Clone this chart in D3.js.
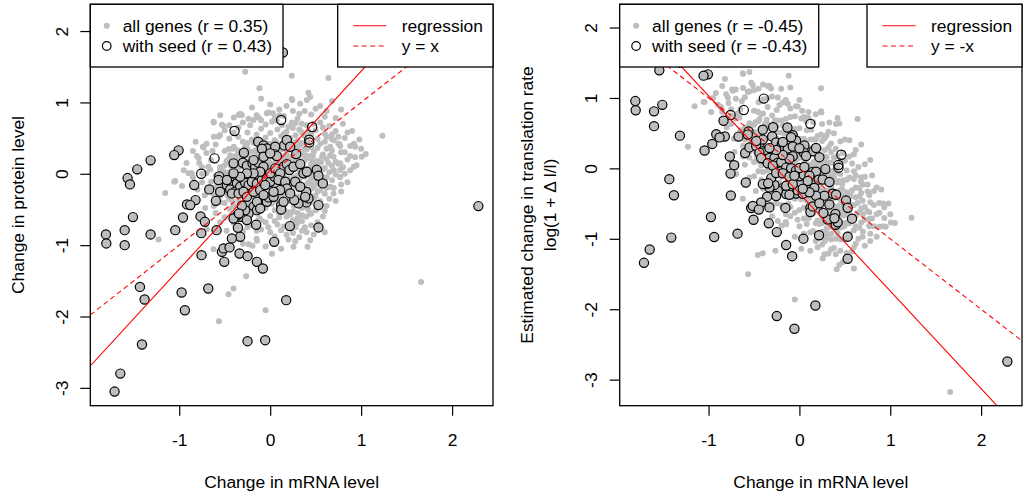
<!DOCTYPE html>
<html>
<head>
<meta charset="utf-8">
<script src="https://cdn.jsdelivr.net/npm/d3@7"></script>
<style>
  body { margin: 0; background: #fff; }
  svg { display: block; font-family: "Liberation Sans", Arial, Helvetica, sans-serif; }
</style>
</head>
<body>
<svg id="chart" width="1024" height="495"></svg>
<script>
// all genes: [change in mRNA level, change in protein level]
var allGenes = [
  [-0.62,0.72],[-0.53,0.687],[-0.56,0.53],[-0.55,0.543],[-0.733,0.37],[-0.788,0.22],[-0.634,0.32],[-0.868,0.005],
  [-0.897,0.006],[-1.044,-0.1],[-1.055,-0.112],[-0.97,-0.17],[-1.154,-0.27],[-0.68,0.1],[-0.66,0.06],[-0.55,0.09],
  [-0.75,-0.12],[-0.275,1.43],[0.238,1.375],[0.64,1.342],[0.42,1.136],[0.44,1.076],[0.238,1.048],[0.33,0.98],
  [0.32,0.84],[-0.019,0.86],[-0.128,0.79],[-0.33,0.84],[-0.238,0.77],[0.073,0.745],[0.238,0.72],[0.348,0.70],
  [0.677,0.487],[0.77,0.39],[0.88,0.39],[0.934,0.23],[0.77,-0.05],[-0.458,0.346],[1.234,0.533],[1.051,0.276],
  [1.007,0.238],[0.934,0.379],[0.762,0.417],[-0.118,1.198],[0.403,1.034],[0.242,1.034],[0.03,0.847],[-0.037,0.847],
  [-0.348,0.823],[-0.311,0.823],[-0.183,0.753],[-0.623,0.729],[-0.513,0.669],[-0.568,0.519],[-0.74,0.379],[-0.806,0.248],
  [-0.861,0.006],[-1.227,-0.92],[0.696,0.238],[0.77,0.146],[0.77,0.052],[0.77,-0.042],[0.66,-0.182],[0.696,-0.275],
  [0.44,-0.556],[0.44,-0.93],[0.256,-1.024],[0.275,-0.944],[0.41,-1.024],[1.659,-1.515],[-0.564,-2.066],[-0.051,-1.912],
  [-0.458,-1.687],[-0.403,-1.608],[-0.264,-1.435],[-0.623,-1.056],[-0.238,-0.986],[-0.194,-1.01],[-0.146,-0.94],[-0.714,-0.481],
  [-0.696,-0.776],[0.06,2.15],
  [-0.2,0.93],[0.1,0.9],[0.18,0.95],[0.5,0.91],[0.0,0.97],
  [-0.4,0.79],[-0.15,0.82],[0.05,0.78],[0.15,0.81],[0.3,0.77],[0.45,0.83],[0.6,0.8],
  [-0.45,0.68],[-0.3,0.72],[-0.05,0.69],[0.02,0.73],[0.2,0.66],[0.28,0.71],[0.4,0.68],[0.55,0.72],[0.65,0.67],
  [-0.5,0.61],[-0.25,0.58],[-0.1,0.63],[0.0,0.57],[0.08,0.62],[0.18,0.59],[0.25,0.64],[0.35,0.58],[0.5,0.61],[0.6,0.56],[0.72,0.6],
  [-0.45,0.49],[-0.35,0.52],[-0.2,0.48],[-0.05,0.51],[0.05,0.47],[0.12,0.53],[0.22,0.5],[0.3,0.46],[0.38,0.53],[0.52,0.49],[0.62,0.52],[0.7,0.47],[0.82,0.5],
  [-0.6,0.41],[-0.4,0.38],[-0.25,0.43],[-0.12,0.39],[0.0,0.42],[0.1,0.37],[0.2,0.43],[0.32,0.4],[0.45,0.37],[0.55,0.42],[0.66,0.38],
  [-0.7,0.29],[-0.5,0.32],[-0.35,0.28],[-0.2,0.31],[-0.05,0.27],[0.08,0.33],[0.18,0.29],[0.25,0.32],[0.35,0.28],[0.48,0.31],[0.58,0.27],[0.68,0.33],[0.82,0.3],
  [-0.65,0.19],[-0.45,0.22],[-0.3,0.18],[-0.18,0.21],[-0.02,0.2],[0.12,0.17],[0.22,0.23],[0.32,0.19],[0.42,0.22],[0.52,0.18],[0.62,0.21],[0.72,0.17],[0.85,0.2],
  [-0.75,0.09],[-0.5,0.12],[-0.35,0.08],[-0.22,0.11],[-0.1,0.07],[0.05,0.12],[0.15,0.09],[0.3,0.11],[0.4,0.07],[0.5,0.12],[0.6,0.08],[0.68,0.11],[0.8,0.09],
  [-0.7,0.01],[-0.6,-0.02],[-0.45,0.02],[-0.3,-0.01],[-0.15,0.03],[-0.05,-0.03],[0.1,0.0],[0.2,0.03],[0.3,-0.02],[0.45,0.01],[0.55,-0.03],[0.65,0.02],[0.72,-0.01],
  [-0.65,-0.11],[-0.5,-0.08],[-0.38,-0.12],[-0.2,-0.09],[-0.08,-0.12],[0.05,-0.08],[0.18,-0.11],[0.32,-0.09],[0.42,-0.12],[0.5,-0.08],[0.6,-0.11],[0.68,-0.09],
  [-0.6,-0.19],[-0.42,-0.22],[-0.3,-0.18],[-0.15,-0.21],[0.0,-0.19],[0.1,-0.23],[0.25,-0.18],[0.35,-0.21],[0.48,-0.19],[0.55,-0.23],[0.62,-0.2],
  [-0.55,-0.31],[-0.4,-0.28],[-0.2,-0.32],[-0.05,-0.29],[0.08,-0.31],[0.18,-0.28],[0.3,-0.32],[0.42,-0.29],[0.5,-0.31],[0.6,-0.28],
  [-0.5,-0.41],[-0.35,-0.38],[-0.22,-0.42],[-0.1,-0.39],[0.02,-0.42],[0.2,-0.38],[0.32,-0.41],[0.45,-0.39],[0.52,-0.42],
  [-0.45,-0.49],[-0.2,-0.52],[-0.05,-0.48],[0.05,-0.51],[0.15,-0.49],[0.25,-0.53],[0.35,-0.48],[0.5,-0.51],
  [-0.5,-0.61],[-0.3,-0.58],[-0.12,-0.62],[0.0,-0.59],[0.1,-0.61],[0.22,-0.57],[0.3,-0.63],[0.4,-0.6],
  [-0.4,-0.69],[-0.2,-0.72],[-0.05,-0.68],[0.08,-0.71],[0.15,-0.74],[0.3,-0.69],[0.45,-0.72],
  [-0.3,-0.81],[-0.1,-0.78],[0.0,-0.82],[0.12,-0.79],[0.25,-0.83],[0.35,-0.8],
  [-0.15,-0.91],[0.05,-0.88],[0.2,-0.92],[0.32,-0.89],
  [-0.15,0.55],[0.15,0.56],[0.28,0.54],[0.45,0.55],
  [-0.3,0.45],[-0.08,0.46],[0.07,0.44],[0.16,0.46],[0.27,0.44],[0.42,0.45],[0.6,0.45],
  [-0.42,0.35],[-0.28,0.36],[-0.12,0.34],[0.03,0.36],[0.14,0.35],[0.28,0.36],[0.4,0.34],[0.52,0.36],[0.62,0.35],
  [-0.38,0.25],[-0.25,0.26],[-0.1,0.24],[0.03,0.26],[0.16,0.25],[0.28,0.24],[0.38,0.26],[0.47,0.25],[0.57,0.24],[0.66,0.26],
  [-0.42,0.15],[-0.28,0.14],[-0.15,0.16],[0.0,0.15],[0.1,0.14],[0.22,0.16],[0.35,0.15],[0.45,0.14],[0.56,0.16],[0.64,0.15],[0.75,0.14],
  [-0.55,0.05],[-0.38,0.04],[-0.25,0.06],[-0.05,0.05],[0.02,0.04],[0.25,0.06],[0.36,0.05],[0.48,0.04],[0.58,0.06],[0.7,0.05],
  [-0.52,-0.05],[-0.35,-0.04],[-0.22,-0.06],[-0.1,-0.05],[0.08,-0.04],[0.16,-0.06],[0.26,-0.05],[0.38,-0.04],[0.5,-0.06],[0.62,-0.05],
  [-0.48,-0.15],[-0.28,-0.14],[-0.12,-0.16],[0.1,-0.15],[0.22,-0.14],[0.38,-0.16],[0.46,-0.15],[0.56,-0.14],
  [-0.48,-0.25],[-0.32,-0.26],[-0.1,-0.24],[0.04,-0.26],[0.14,-0.25],[0.24,-0.24],[0.38,-0.26],[0.52,-0.25],
  [-0.45,-0.35],[-0.28,-0.34],[-0.15,-0.36],[0.12,-0.35],[0.25,-0.34],[0.38,-0.36],[0.48,-0.35],
  [-0.4,-0.45],[-0.15,-0.46],[0.1,-0.44],[0.26,-0.45],[0.4,-0.46],
  [-0.35,-0.55],[0.1,-0.56],[0.2,-0.54],[0.3,-0.55],[0.45,-0.56],
  [-0.1,-0.65],[0.05,-0.66],[0.25,-0.65],[0.35,-0.66],
  [-0.25,-0.75],[0.22,-0.76],[0.38,-0.75],
  [0.55,0.95],[0.62,0.88],[0.72,0.78],[0.8,0.7],[0.9,0.6],[0.98,0.48],[0.85,0.58],[0.75,0.52],[0.92,0.42],[1.0,0.35],
  [0.95,0.12],[0.88,0.05],[0.85,-0.12],[0.78,-0.25],[0.72,-0.38],[0.62,-0.45],[0.58,-0.6],[0.52,-0.68],[0.48,-0.85],[0.6,-0.82],
  [-0.82,0.45],[-0.85,0.32],[-0.92,0.15],[-0.95,0.05],[-0.85,-0.05],[-0.8,-0.22],[-0.72,-0.3],[-0.62,-0.45],[-0.6,-0.55],[-0.55,-0.68],
  [-0.48,-0.8],[-0.42,-0.92],[-0.3,-0.98],[-0.05,-1.02],[0.12,-1.05],[0.02,-1.12],
  [-0.55,0.82],[-0.1,1.05],[0.68,1.02],[0.78,0.9],
  [0.13,0.68],[0.32,0.62],[0.42,0.6],[0.48,0.7],[0.58,0.65],[0.68,0.55],[0.75,0.42],[0.78,0.3],[0.88,0.25],[0.92,0.1],
  [0.82,0.0],[0.78,-0.15],[0.7,-0.2],[0.65,-0.35],[0.55,-0.38],[0.6,-0.52],[0.42,-0.5],[0.35,-0.58],[0.18,-0.6],[0.28,-0.75],
  [0.4,-0.82],[0.18,-0.85],[-0.02,-0.75],[-0.15,-0.8],[-0.28,-0.65],[-0.42,-0.58],[-0.55,-0.4],[-0.62,-0.3],[-0.68,-0.2],[-0.75,0.0],
  [-0.78,0.15],[-0.7,0.42],[-0.62,0.52],[-0.4,0.58],[-0.35,0.65],[-0.22,0.68],[-0.1,0.75],[0.1,0.82],[0.38,0.88],[0.25,0.88],
  // dense core
  [-0.27,0.41],[-0.18,0.43],[-0.05,0.42],[0.06,0.4],[0.14,0.43],[0.25,0.41],[0.35,0.43],
  [-0.36,0.33],[-0.25,0.35],[-0.16,0.33],[-0.07,0.35],[0.02,0.32],[0.11,0.34],[0.2,0.35],[0.3,0.33],[0.38,0.35],
  [-0.44,0.26],[-0.33,0.25],[-0.14,0.27],[-0.04,0.25],[0.1,0.27],[0.19,0.25],[0.34,0.27],[0.43,0.25],
  [-0.48,0.18],[-0.38,0.19],[-0.25,0.17],[-0.1,0.19],[0.06,0.18],[0.16,0.2],[0.27,0.17],[0.38,0.19],[0.47,0.18],
  [-0.52,0.1],[-0.43,0.11],[-0.29,0.09],[-0.17,0.11],[-0.03,0.1],[0.09,0.09],[0.21,0.11],[0.35,0.1],[0.45,0.09],
  [-0.5,0.02],[-0.4,0.03],[-0.21,0.01],[-0.08,0.02],[0.05,0.03],[0.15,0.01],[0.33,0.02],[0.42,0.03],[0.5,0.01],
  [-0.46,-0.06],[-0.3,-0.07],[-0.16,-0.05],[-0.02,-0.07],[0.12,-0.06],[0.21,-0.07],[0.31,-0.05],[0.45,-0.07],[0.55,-0.06],
  [-0.54,-0.14],[-0.36,-0.13],[-0.19,-0.15],[-0.05,-0.14],[0.04,-0.13],[0.16,-0.15],[0.29,-0.14],[0.42,-0.13],[0.51,-0.15],
  [-0.52,-0.22],[-0.37,-0.21],[-0.24,-0.23],[-0.06,-0.22],[0.06,-0.21],[0.2,-0.23],[0.31,-0.22],[0.45,-0.21],
  [-0.47,-0.3],[-0.32,-0.31],[-0.12,-0.29],[0.0,-0.3],[0.12,-0.31],[0.23,-0.29],[0.35,-0.3],[0.46,-0.31],
  [-0.42,-0.38],[-0.27,-0.39],[-0.05,-0.37],[0.08,-0.38],[0.17,-0.39],[0.28,-0.37],[0.4,-0.38]
];

// genes with seed, drawn gray-filled
var seedFilled = [
  [0.14,1.70],
  [-1.007,0.328],[-1.055,0.262],[-1.315,0.188],[-1.462,0.062],[-1.568,-0.06],[-1.542,-0.149],[-0.835,-0.158],
  [-0.597,-0.379],[-0.821,-0.369],[-0.915,-0.429],[-0.879,-0.439],[-0.766,-0.597],[-0.718,-0.673],[-0.758,-0.832],
  [-0.959,-0.612],[-1.044,-0.79],[-1.315,-0.85],[-1.509,-0.607],[-1.6,-0.79],[-1.6,-1.0],[-1.806,-0.85],[-1.802,-0.976],
  [-0.59,-0.79],[-0.355,-0.757],[-0.33,-0.884],[-0.421,-0.906],[-0.154,-0.715],[0.044,-0.954],[0.216,-0.733],[0.531,-0.752],
  [0.531,-0.439],[0.399,-0.401],[0.121,-0.439],[0.121,-0.5],[0.147,-0.393],[-0.037,-0.393],
  [-0.183,-0.463],[-0.146,-0.51],[-0.238,-0.556],[-0.275,-0.51],[-0.311,-0.449],[-0.33,-0.603],[-0.256,-0.649],[-0.359,-0.579],
  [-0.403,-0.626],[-0.344,-0.556],[0.311,-0.415],[-0.146,-0.393],[-0.11,-0.486],
  [-0.755,-1.14],[-0.531,-1.094],[-0.513,-1.046],[-0.447,-1.032],[-0.505,-1.234],[-0.337,-1.117],[-0.249,-1.154],[-0.146,-1.234],
  [-0.08,-1.327],[-1.432,-1.585],[-1.381,-1.762],[-0.974,-1.664],[-0.938,-1.912],[-0.681,-1.608],[0.176,-1.771],[-1.41,-2.393],
  [-1.648,-2.8],[-1.711,-3.052],[-0.249,-2.346],[-0.055,-2.332],[2.289,-0.453],
  [-0.289,0.295],[-0.132,0.449],[-0.073,0.398],[-0.037,0.356],[-0.091,0.351],[0.055,0.379],[0.154,0.398],[0.183,0.473],
  [-0.67,-0.219],[-0.56,-0.036],[-0.568,-0.088],[-0.55,-0.252],
  [-0.403,0.146],[-0.3,0.154],[-0.256,0.112],[-0.194,0.146],[-0.165,0.098],[-0.128,0.154],[-0.073,0.098],[-0.183,0.192],
  [0.048,0.272],[0.073,0.248],[0.286,0.276],[0.147,0.098],[0.183,0.136],[0.212,0.052],[0.256,0.098],[0.33,0.136],
  [0.513,0.056],[0.531,-0.028],[0.579,-0.135],[0.366,0.006],[0.403,0.028],[0.275,-0.112],
  [0.421,-0.345],[0.264,-0.369],[-0.018,-0.331],[0.037,-0.323],[0.396,-0.252],
  [-0.44,-0.112],[-0.476,-0.158],[-0.403,-0.158],[-0.366,-0.135],[-0.44,-0.219],[-0.385,-0.252],[-0.33,-0.182],[-0.275,-0.126],
  [-0.238,-0.158],[-0.201,-0.112],[-0.146,-0.135],[-0.091,-0.088],[-0.037,-0.065],[0.0,-0.112],[0.048,-0.042],
  [-0.421,-0.275],[-0.348,-0.275],[-0.293,-0.252],[-0.256,-0.323],[-0.183,-0.252],[-0.11,-0.229],[-0.073,-0.299],
  [0.0,0.006],[0.055,0.076],[0.11,0.006],[0.091,-0.088],[0.165,-0.112],[0.183,-0.205],[0.11,-0.229],[0.037,-0.252],
  [0.22,-0.275],[0.33,-0.182],[0.385,-0.323],[-0.11,0.028],[-0.183,0.006],[-0.055,-0.158],[-0.256,0.006],[-0.33,-0.042],
  [-0.403,0.006],[-0.476,-0.088],[-0.073,0.238],[0.0,0.286],[0.22,0.379]
];

// genes with seed, drawn as open circles
var seedOpen = [
  [0.121,0.753],[-0.392,0.599],[0.462,0.655],[0.429,0.477],[0.43,0.44],[-0.612,0.216],[-0.758,0.0]
];

// right panel: estimated change in translation rate = protein change - mRNA change
var xTicks = [-1, 0, 1, 2];
var yTicks = [-3, -2, -1, 0, 1, 2];
var xDomain = [-1.978, 2.45];

var panels = [
  {
    left: 90.3, right: 493, top: 4.3, bottom: 405.7,
    yDomain: [-3.25, 2.375],
    yValue: function(d) { return d[1]; },
    yTitle: ["Change in protein level"], yTitleX: [18],
    legendNames: ["all genes (r = 0.35)", "with seed (r = 0.43)"],
    lineNames: ["regression", "y = x"],
    regression: [0.05, 1.387],   // intercept, slope
    reference: [0, 1],
    legendLeftW: 192.7, legendRightX: 337.7
  },
  {
    left: 619.7, right: 1022, top: 4.3, bottom: 405.7,
    yDomain: [-3.37, 2.33],
    yValue: function(d) { return d[1] - d[0]; },
    yTitle: ["Estimated change in translation rate", "log(1 + \u0394 l/l)"], yTitleX: [527, 550],
    legendNames: ["all genes (r = -0.45)", "with seed (r = -0.43)"],
    lineNames: ["regression", "y = -x"],
    regression: [-0.356, -1.386],
    reference: [0, -1],
    legendLeftW: 199, legendRightX: 867
  }
];

var svg = d3.select('#chart');
var fontSize = 17.4;

panels.forEach(function(p, pi) {
  var x = d3.scaleLinear().domain(xDomain).range([p.left, p.right]);
  var y = d3.scaleLinear().domain(p.yDomain).range([p.bottom, p.top]);

  var clipId = 'clip' + pi;
  svg.append('clipPath').attr('id', clipId)
    .append('rect')
    .attr('x', p.left).attr('y', p.top)
    .attr('width', p.right - p.left).attr('height', p.bottom - p.top);

  var g = svg.append('g').attr('clip-path', 'url(#' + clipId + ')');

  g.selectAll('circle.all').data(allGenes).enter().append('circle')
    .attr('class', 'all')
    .attr('cx', function(d) { return x(d[0]); })
    .attr('cy', function(d) { return y(p.yValue(d)); })
    .attr('r', 3)
    .style('fill', '#bebebe');

  [[seedOpen, 'none'], [seedFilled, '#bebebe']].forEach(function(s, si) {
    g.selectAll('circle.seed' + si).data(s[0]).enter().append('circle')
      .attr('class', 'seed' + si)
      .attr('cx', function(d) { return x(d[0]); })
      .attr('cy', function(d) { return y(p.yValue(d)); })
      .attr('r', 4.6)
      .style('fill', s[1])
      .style('stroke', '#000')
      .style('stroke-width', 1.2);
  });

  // abline style lines
  [[p.regression, null], [p.reference, '5,3.5']].forEach(function(l) {
    var a = l[0][0], b = l[0][1];
    g.append('line')
      .attr('x1', x(xDomain[0])).attr('y1', y(a + b * xDomain[0]))
      .attr('x2', x(xDomain[1])).attr('y2', y(a + b * xDomain[1]))
      .style('stroke', '#ff0000')
      .style('stroke-width', 1.1)
      .style('stroke-dasharray', l[1]);
  });

  // axes
  var xAxis = d3.axisBottom(x).tickValues(xTicks).tickSize(10)
    .tickFormat(function(d) { return d; });
  var gx = svg.append('g').attr('transform', 'translate(0,' + p.bottom + ')').call(xAxis);
  gx.select('.domain').remove();
  gx.selectAll('line').style('stroke', '#000').style('stroke-width', 1.2);
  gx.selectAll('text').style('font-size', fontSize + 'px')
    .attr('y', null).attr('dy', null)
    .attr('transform', 'translate(0,34.5)')
    .attr('dominant-baseline', 'central')
    .style('font-family', 'inherit').style('fill', '#000');

  var yAxis = d3.axisLeft(y).tickValues(yTicks).tickSize(10)
    .tickFormat(function(d) { return d; });
  var gy = svg.append('g').attr('transform', 'translate(' + p.left + ',0)').call(yAxis);
  gy.select('.domain').remove();
  gy.selectAll('line').style('stroke', '#000').style('stroke-width', 1.2);
  gy.selectAll('text')
    .attr('x', null).attr('dy', null)
    .attr('transform', 'translate(-28.6,0) rotate(-90)')
    .attr('text-anchor', 'middle')
    .attr('dominant-baseline', 'central')
    .style('font-size', fontSize + 'px')
    .style('font-family', 'inherit').style('fill', '#000');

  // titles
  svg.append('text')
    .attr('x', (p.left + p.right) / 2).attr('y', 481.7)
    .attr('text-anchor', 'middle').attr('dominant-baseline', 'central')
    .style('font-size', fontSize + 'px')
    .text('Change in mRNA level');

  p.yTitle.forEach(function(t, i) {
    svg.append('text')
      .attr('transform', 'translate(' + p.yTitleX[i] + ',' + ((p.top + p.bottom) / 2) + ') rotate(-90)')
      .attr('text-anchor', 'middle').attr('dominant-baseline', 'central')
      .style('font-size', fontSize + 'px')
      .text(t);
  });

  // plot box
  svg.append('rect')
    .attr('x', p.left).attr('y', p.top)
    .attr('width', p.right - p.left).attr('height', p.bottom - p.top)
    .style('fill', 'none').style('stroke', '#000').style('stroke-width', 1.3);

  // legends
  var rowY = [p.top + 21.4, p.top + 41.7];
  var lg = svg.append('g');
  lg.append('rect')
    .attr('x', p.left).attr('y', p.top)
    .attr('width', p.legendLeftW).attr('height', 62.7)
    .style('fill', '#fff').style('stroke', '#000').style('stroke-width', 1.3);
  lg.append('circle').attr('cx', p.left + 16.4).attr('cy', rowY[0]).attr('r', 3)
    .style('fill', '#bebebe');
  lg.append('circle').attr('cx', p.left + 16.4).attr('cy', rowY[1]).attr('r', 4.3)
    .style('fill', 'none').style('stroke', '#000').style('stroke-width', 1.2);
  p.legendNames.forEach(function(t, i) {
    lg.append('text').attr('x', p.left + 32.4).attr('y', rowY[i])
      .attr('dominant-baseline', 'central')
      .style('font-size', fontSize + 'px').text(t);
  });

  var rg = svg.append('g');
  rg.append('rect')
    .attr('x', p.legendRightX).attr('y', p.top)
    .attr('width', p.right - p.legendRightX).attr('height', 62.7)
    .style('fill', '#fff').style('stroke', '#000').style('stroke-width', 1.3);
  p.lineNames.forEach(function(t, i) {
    rg.append('line')
      .attr('x1', p.legendRightX + 15.5).attr('x2', p.legendRightX + 48.5)
      .attr('y1', rowY[i]).attr('y2', rowY[i])
      .style('stroke', '#ff0000').style('stroke-width', 1.1)
      .style('stroke-dasharray', i === 1 ? '5,3.5' : null);
    rg.append('text').attr('x', p.legendRightX + 64).attr('y', rowY[i])
      .attr('dominant-baseline', 'central')
      .style('font-size', fontSize + 'px').text(t);
  });
});
</script>
</body>
</html>
